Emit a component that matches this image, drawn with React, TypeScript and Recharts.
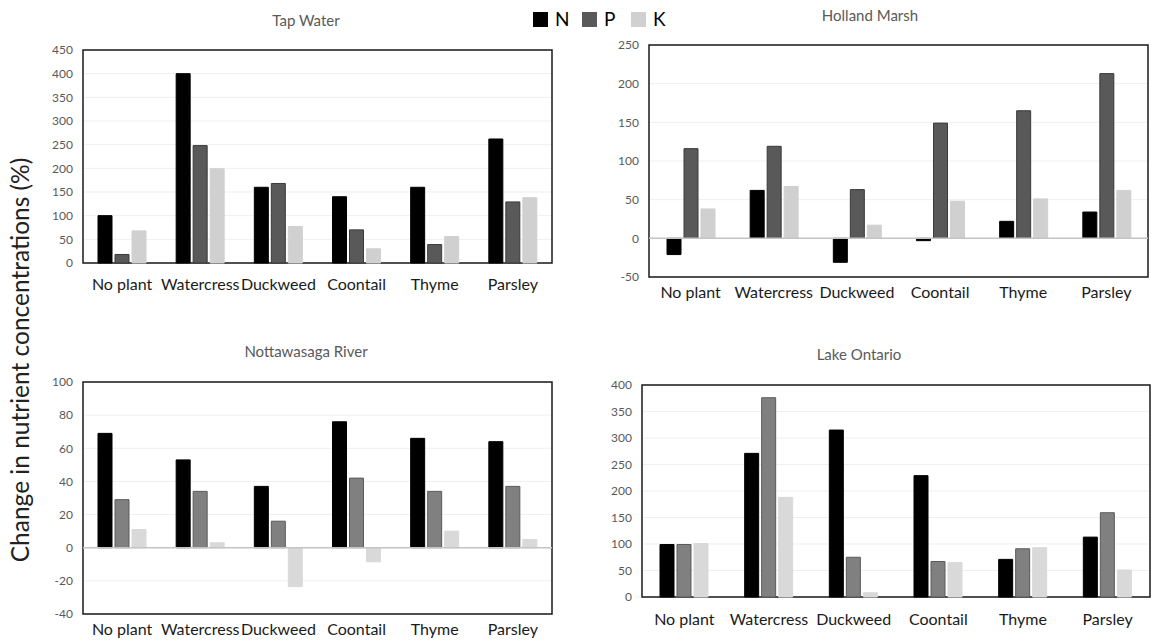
import React from 'react';
import { BarChart, Bar, XAxis, YAxis, CartesianGrid, ReferenceLine, ReferenceArea } from 'recharts';

const plants = ['No plant', 'Watercress', 'Duckweed', 'Coontail', 'Thyme', 'Parsley'];
const nutrients = ['N', 'P', 'K'];

// Tap Water
const tapN = [100, 400, 160, 140, 160, 262];
const tapP = [18, 248, 168, 70, 39, 129];
const tapK = [68, 199, 77, 30, 56, 138];
const tapTicks = [0, 50, 100, 150, 200, 250, 300, 350, 400, 450];

// Holland Marsh
const marshN = [-21, 62, -31, -3, 22, 34];
const marshP = [116, 119, 63, 149, 165, 213];
const marshK = [38, 67, 17, 48, 51, 62];
const marshTicks = [-50, 0, 50, 100, 150, 200, 250];

// Nottawasaga River
const riverN = [69, 53, 37, 76, 66, 64];
const riverP = [29, 34, 16, 42, 34, 37];
const riverK = [11, 3, -23.5, -8.5, 10, 5];
const riverTicks = [-40, -20, 0, 20, 40, 60, 80, 100];

// Lake Ontario
const lakeN = [99, 271, 315, 229, 71, 113];
const lakeP = [99, 376, 75, 67, 91, 159];
const lakeK = [101, 188, 8, 65, 93, 51];
const lakeTicks = [0, 50, 100, 150, 200, 250, 300, 350, 400];

const darkColors = ['#000000', '#595959', '#d0d0d0'];
const darkStrokes = ['#000000', '#3a3a3a', '#d0d0d0'];
const midColors = ['#000000', '#808080', '#d9d9d9'];
const midStrokes = ['#000000', '#5a5a5a', '#d9d9d9'];

const FONT = 'Lato, "Open Sans", sans-serif';

const rows = (n: number[], p: number[], k: number[]) =>
  plants.map((plant, i) => ({ plant, N: n[i], P: p[i], K: k[i] }));

type PanelProps = {
  title: string;
  titleX: number;
  titleY: number;
  data: any[];
  ticks: number[];
  left: number;
  top: number;
  width: number;
  height: number;
  margin: { top: number; right: number; bottom: number; left: number };
  yWidth: number;
  xHeight: number;
  xTickMargin: number;
  colors: string[];
  strokes: string[];
  zeroLine?: boolean;
};

const Panel = (p: PanelProps) => {
  const lo = p.ticks[0];
  const hi = p.ticks[p.ticks.length - 1];
  return (
    <>
      <div
        style={{
          position: 'absolute',
          left: p.titleX - 150,
          top: p.titleY - 10,
          width: 300,
          textAlign: 'center',
          fontSize: 15,
          lineHeight: '20px',
          color: '#595959',
          fontFamily: FONT,
        }}
      >
        {p.title}
      </div>
      <div style={{ position: 'absolute', left: p.left, top: p.top }}>
        <BarChart width={p.width} height={p.height} data={p.data} margin={p.margin} barSize={14} barGap={3}>
          <CartesianGrid vertical={false} stroke="#efefef" />
          <XAxis
            dataKey="plant"
            interval={0}
            tickLine={false}
            axisLine={false}
            height={p.xHeight}
            tickMargin={p.xTickMargin}
            tick={{ fontSize: 16, fill: '#1a1a1a', fontFamily: FONT }}
          />
          <YAxis
            type="number"
            domain={[lo, hi]}
            ticks={p.ticks}
            interval={0}
            width={p.yWidth}
            tickLine={false}
            axisLine={false}
            tickMargin={4}
            tick={{ fontSize: 12, fill: '#595959', fontFamily: FONT }}
          />
          {p.zeroLine && <ReferenceLine y={0} stroke="#c4c4c4" strokeWidth={1.5} />}
          {nutrients.map((key, i) => (
            <Bar
              key={key}
              dataKey={key}
              fill={p.colors[i]}
              stroke={p.strokes[i]}
              strokeWidth={1}
              isAnimationActive={false}
            />
          ))}
          <ReferenceArea y1={lo} y2={hi} fill="none" fillOpacity={0} stroke="#1a1a1a" strokeWidth={1.5} />
        </BarChart>
      </div>
    </>
  );
};

export default function App() {
  return (
    <div
      style={{
        position: 'absolute',
        left: 0,
        top: 0,
        width: 1151,
        height: 640,
        background: '#ffffff',
        fontFamily: FONT,
        overflow: 'hidden',
      }}
    >
      {/* shared legend */}
      {nutrients.map((key, i) => (
        <div key={key} style={{ position: 'absolute', left: 533 + i * 49, top: 8, display: 'flex', alignItems: 'center' }}>
          <div style={{ width: 15, height: 15, background: darkColors[i] }} />
          <span style={{ marginLeft: 7, fontSize: 19, color: '#000', lineHeight: '22px' }}>{key}</span>
        </div>
      ))}

      {/* shared y label */}
      <div
        style={{
          position: 'absolute',
          left: 20 - 250,
          top: 360 - 15,
          width: 500,
          textAlign: 'center',
          fontSize: 24.5,
          lineHeight: '30px',
          color: '#222',
          transform: 'rotate(-90deg)',
        }}
      >
        Change in nutrient concentrations (%)
      </div>

      <Panel
        title="Tap Water"
        titleX={306}
        titleY={20}
        data={rows(tapN, tapP, tapK)}
        ticks={tapTicks}
        left={40}
        top={30}
        width={520}
        height={270}
        margin={{ top: 20, right: 8, bottom: 7, left: 0 }}
        yWidth={43}
        xHeight={30}
        xTickMargin={10}
        colors={darkColors}
        strokes={darkStrokes}
      />
      <Panel
        title="Holland Marsh"
        titleX={870}
        titleY={15}
        data={rows(marshN, marshP, marshK)}
        ticks={marshTicks}
        left={600}
        top={25}
        width={551}
        height={287}
        margin={{ top: 20, right: 3, bottom: 5, left: 0 }}
        yWidth={49}
        xHeight={30}
        xTickMargin={4}
        colors={darkColors}
        strokes={darkStrokes}
        zeroLine
      />
      <Panel
        title="Nottawasaga River"
        titleX={306}
        titleY={351}
        data={rows(riverN, riverP, riverK)}
        ticks={riverTicks}
        left={40}
        top={362}
        width={520}
        height={278}
        margin={{ top: 20, right: 8, bottom: 2, left: 0 }}
        yWidth={43}
        xHeight={24}
        xTickMargin={4}
        colors={midColors}
        strokes={midStrokes}
        zeroLine
      />
      <Panel
        title="Lake Ontario"
        titleX={859}
        titleY={354}
        data={rows(lakeN, lakeP, lakeK)}
        ticks={lakeTicks}
        left={592}
        top={365}
        width={559}
        height={270}
        margin={{ top: 20, right: 1, bottom: 8, left: 0 }}
        yWidth={50}
        xHeight={30}
        xTickMargin={11}
        colors={midColors}
        strokes={midStrokes}
      />
    </div>
  );
}
